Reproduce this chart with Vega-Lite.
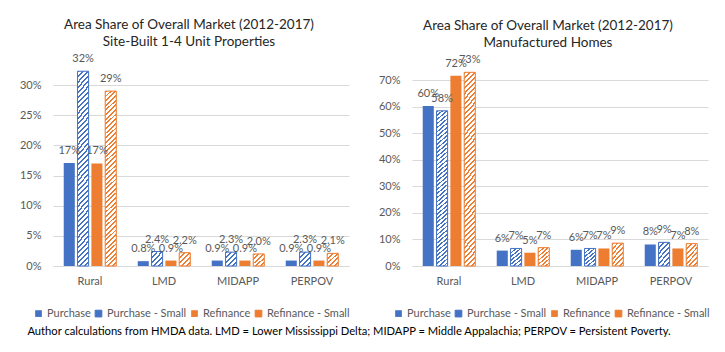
{
  "$schema": "https://vega.github.io/schema/vega-lite/v6.json",
  "background": "white",
  "padding": {"left": 19, "top": 17, "right": 5, "bottom": 5},
  "config": {
    "font": "Lato",
    "view": {"stroke": null},
    "axis": {"labelFont": "Lato", "labelFontSize": 11, "labelColor": "#595959", "ticks": false, "title": null, "domain": false, "gridColor": "#d9d9d9", "gridWidth": 1},
    "axisX": {"domain": true, "domainColor": "#d9d9d9", "grid": false, "labelPadding": 9, "labelAngle": 0},
    "axisY": {"labelPadding": 12},
    "title": {"font": "Lato", "fontSize": 13.5, "fontWeight": "normal", "color": "#262626"}
  },
  "params": [
    {"name": "hT", "value": {"gradient": "linear", "x1": 0, "y1": 0, "x2": 0.0646, "y2": 1.0572, "stops": [
      {"offset":0,"color":"#fff0"},{"offset":0.01,"color":"#fff0"},{"offset":0.01,"color":"#fff"},{"offset":0.025,"color":"#fff"},
      {"offset":0.025,"color":"#fff0"},{"offset":0.035,"color":"#fff0"},{"offset":0.035,"color":"#fff"},{"offset":0.05,"color":"#fff"},
      {"offset":0.05,"color":"#fff0"},{"offset":0.06,"color":"#fff0"},{"offset":0.06,"color":"#fff"},{"offset":0.075,"color":"#fff"},
      {"offset":0.075,"color":"#fff0"},{"offset":0.085,"color":"#fff0"},{"offset":0.085,"color":"#fff"},{"offset":0.1,"color":"#fff"},
      {"offset":0.1,"color":"#fff0"},{"offset":0.11,"color":"#fff0"},{"offset":0.11,"color":"#fff"},{"offset":0.125,"color":"#fff"},
      {"offset":0.125,"color":"#fff0"},{"offset":0.135,"color":"#fff0"},{"offset":0.135,"color":"#fff"},{"offset":0.15,"color":"#fff"},
      {"offset":0.15,"color":"#fff0"},{"offset":0.16,"color":"#fff0"},{"offset":0.16,"color":"#fff"},{"offset":0.175,"color":"#fff"},
      {"offset":0.175,"color":"#fff0"},{"offset":0.185,"color":"#fff0"},{"offset":0.185,"color":"#fff"},{"offset":0.2,"color":"#fff"},
      {"offset":0.2,"color":"#fff0"},{"offset":0.21,"color":"#fff0"},{"offset":0.21,"color":"#fff"},{"offset":0.225,"color":"#fff"},
      {"offset":0.225,"color":"#fff0"},{"offset":0.235,"color":"#fff0"},{"offset":0.235,"color":"#fff"},{"offset":0.25,"color":"#fff"},
      {"offset":0.25,"color":"#fff0"},{"offset":0.26,"color":"#fff0"},{"offset":0.26,"color":"#fff"},{"offset":0.275,"color":"#fff"},
      {"offset":0.275,"color":"#fff0"},{"offset":0.285,"color":"#fff0"},{"offset":0.285,"color":"#fff"},{"offset":0.3,"color":"#fff"},
      {"offset":0.3,"color":"#fff0"},{"offset":0.31,"color":"#fff0"},{"offset":0.31,"color":"#fff"},{"offset":0.325,"color":"#fff"},
      {"offset":0.325,"color":"#fff0"},{"offset":0.335,"color":"#fff0"},{"offset":0.335,"color":"#fff"},{"offset":0.35,"color":"#fff"},
      {"offset":0.35,"color":"#fff0"},{"offset":0.36,"color":"#fff0"},{"offset":0.36,"color":"#fff"},{"offset":0.375,"color":"#fff"},
      {"offset":0.375,"color":"#fff0"},{"offset":0.385,"color":"#fff0"},{"offset":0.385,"color":"#fff"},{"offset":0.4,"color":"#fff"},
      {"offset":0.4,"color":"#fff0"},{"offset":0.41,"color":"#fff0"},{"offset":0.41,"color":"#fff"},{"offset":0.425,"color":"#fff"},
      {"offset":0.425,"color":"#fff0"},{"offset":0.435,"color":"#fff0"},{"offset":0.435,"color":"#fff"},{"offset":0.45,"color":"#fff"},
      {"offset":0.45,"color":"#fff0"},{"offset":0.46,"color":"#fff0"},{"offset":0.46,"color":"#fff"},{"offset":0.475,"color":"#fff"},
      {"offset":0.475,"color":"#fff0"},{"offset":0.485,"color":"#fff0"},{"offset":0.485,"color":"#fff"},{"offset":0.5,"color":"#fff"},
      {"offset":0.5,"color":"#fff0"},{"offset":0.51,"color":"#fff0"},{"offset":0.51,"color":"#fff"},{"offset":0.525,"color":"#fff"},
      {"offset":0.525,"color":"#fff0"},{"offset":0.535,"color":"#fff0"},{"offset":0.535,"color":"#fff"},{"offset":0.55,"color":"#fff"},
      {"offset":0.55,"color":"#fff0"},{"offset":0.56,"color":"#fff0"},{"offset":0.56,"color":"#fff"},{"offset":0.575,"color":"#fff"},
      {"offset":0.575,"color":"#fff0"},{"offset":0.585,"color":"#fff0"},{"offset":0.585,"color":"#fff"},{"offset":0.6,"color":"#fff"},
      {"offset":0.6,"color":"#fff0"},{"offset":0.61,"color":"#fff0"},{"offset":0.61,"color":"#fff"},{"offset":0.625,"color":"#fff"},
      {"offset":0.625,"color":"#fff0"},{"offset":0.635,"color":"#fff0"},{"offset":0.635,"color":"#fff"},{"offset":0.65,"color":"#fff"},
      {"offset":0.65,"color":"#fff0"},{"offset":0.66,"color":"#fff0"},{"offset":0.66,"color":"#fff"},{"offset":0.675,"color":"#fff"},
      {"offset":0.675,"color":"#fff0"},{"offset":0.685,"color":"#fff0"},{"offset":0.685,"color":"#fff"},{"offset":0.7,"color":"#fff"},
      {"offset":0.7,"color":"#fff0"},{"offset":0.71,"color":"#fff0"},{"offset":0.71,"color":"#fff"},{"offset":0.725,"color":"#fff"},
      {"offset":0.725,"color":"#fff0"},{"offset":0.735,"color":"#fff0"},{"offset":0.735,"color":"#fff"},{"offset":0.75,"color":"#fff"},
      {"offset":0.75,"color":"#fff0"},{"offset":0.76,"color":"#fff0"},{"offset":0.76,"color":"#fff"},{"offset":0.775,"color":"#fff"},
      {"offset":0.775,"color":"#fff0"},{"offset":0.785,"color":"#fff0"},{"offset":0.785,"color":"#fff"},{"offset":0.8,"color":"#fff"},
      {"offset":0.8,"color":"#fff0"},{"offset":0.81,"color":"#fff0"},{"offset":0.81,"color":"#fff"},{"offset":0.825,"color":"#fff"},
      {"offset":0.825,"color":"#fff0"},{"offset":0.835,"color":"#fff0"},{"offset":0.835,"color":"#fff"},{"offset":0.85,"color":"#fff"},
      {"offset":0.85,"color":"#fff0"},{"offset":0.86,"color":"#fff0"},{"offset":0.86,"color":"#fff"},{"offset":0.875,"color":"#fff"},
      {"offset":0.875,"color":"#fff0"},{"offset":0.885,"color":"#fff0"},{"offset":0.885,"color":"#fff"},{"offset":0.9,"color":"#fff"},
      {"offset":0.9,"color":"#fff0"},{"offset":0.91,"color":"#fff0"},{"offset":0.91,"color":"#fff"},{"offset":0.925,"color":"#fff"},
      {"offset":0.925,"color":"#fff0"},{"offset":0.935,"color":"#fff0"},{"offset":0.935,"color":"#fff"},{"offset":0.95,"color":"#fff"},
      {"offset":0.95,"color":"#fff0"},{"offset":0.96,"color":"#fff0"},{"offset":0.96,"color":"#fff"},{"offset":0.975,"color":"#fff"},
      {"offset":0.975,"color":"#fff0"},{"offset":0.985,"color":"#fff0"},{"offset":0.985,"color":"#fff"},{"offset":1,"color":"#fff"}
    ]}},
    {"name": "hS1", "value": {"gradient": "linear", "x1": 0, "y1": 0, "x2": 0.91, "y2": 1.076, "stops": [
      {"offset":0,"color":"#fff0"},{"offset":0.08,"color":"#fff0"},{"offset":0.08,"color":"#fff"},{"offset":0.2,"color":"#fff"},
      {"offset":0.2,"color":"#fff0"},{"offset":0.28,"color":"#fff0"},{"offset":0.28,"color":"#fff"},{"offset":0.4,"color":"#fff"},
      {"offset":0.4,"color":"#fff0"},{"offset":0.48,"color":"#fff0"},{"offset":0.48,"color":"#fff"},{"offset":0.6,"color":"#fff"},
      {"offset":0.6,"color":"#fff0"},{"offset":0.68,"color":"#fff0"},{"offset":0.68,"color":"#fff"},{"offset":0.8,"color":"#fff"},
      {"offset":0.8,"color":"#fff0"},{"offset":0.88,"color":"#fff0"},{"offset":0.88,"color":"#fff"},{"offset":1,"color":"#fff"}
    ]}},
    {"name": "hS2", "value": {"gradient": "linear", "x1": 0, "y1": 0, "x2": 0.626, "y2": 1.196, "stops": [
      {"offset":0,"color":"#fff0"},{"offset":0.057,"color":"#fff0"},{"offset":0.057,"color":"#fff"},{"offset":0.143,"color":"#fff"},
      {"offset":0.143,"color":"#fff0"},{"offset":0.2,"color":"#fff0"},{"offset":0.2,"color":"#fff"},{"offset":0.286,"color":"#fff"},
      {"offset":0.286,"color":"#fff0"},{"offset":0.343,"color":"#fff0"},{"offset":0.343,"color":"#fff"},{"offset":0.429,"color":"#fff"},
      {"offset":0.429,"color":"#fff0"},{"offset":0.486,"color":"#fff0"},{"offset":0.486,"color":"#fff"},{"offset":0.571,"color":"#fff"},
      {"offset":0.571,"color":"#fff0"},{"offset":0.629,"color":"#fff0"},{"offset":0.629,"color":"#fff"},{"offset":0.714,"color":"#fff"},
      {"offset":0.714,"color":"#fff0"},{"offset":0.771,"color":"#fff0"},{"offset":0.771,"color":"#fff"},{"offset":0.857,"color":"#fff"},
      {"offset":0.857,"color":"#fff0"},{"offset":0.914,"color":"#fff0"},{"offset":0.914,"color":"#fff"},{"offset":1,"color":"#fff"}
    ]}},
    {"name": "lB", "value": {"gradient": "linear", "x1": 0, "y1": 0, "x2": 1, "y2": 1, "stops": [
      {"offset":0,"color":"#4472C4"},{"offset":0.133,"color":"#4472C4"},{"offset":0.133,"color":"#fff"},{"offset":0.333,"color":"#fff"},
      {"offset":0.333,"color":"#4472C4"},{"offset":0.467,"color":"#4472C4"},{"offset":0.467,"color":"#fff"},{"offset":0.667,"color":"#fff"},
      {"offset":0.667,"color":"#4472C4"},{"offset":0.8,"color":"#4472C4"},{"offset":0.8,"color":"#fff"},{"offset":1,"color":"#fff"}
    ]}},
    {"name": "lO", "value": {"gradient": "linear", "x1": 0, "y1": 0, "x2": 1, "y2": 1, "stops": [
      {"offset":0,"color":"#ED7D31"},{"offset":0.133,"color":"#ED7D31"},{"offset":0.133,"color":"#fff"},{"offset":0.333,"color":"#fff"},
      {"offset":0.333,"color":"#ED7D31"},{"offset":0.467,"color":"#ED7D31"},{"offset":0.467,"color":"#fff"},{"offset":0.667,"color":"#fff"},
      {"offset":0.667,"color":"#ED7D31"},{"offset":0.8,"color":"#ED7D31"},{"offset":0.8,"color":"#fff"},{"offset":1,"color":"#fff"}
    ]}}
  ],
  "datasets": {
    "d": [
      {"p": "L", "c": "Rural", "s": "Purchase", "v": 0.171},
      {"p": "L", "c": "Rural", "s": "Purchase - Small", "v": 0.323},
      {"p": "L", "c": "Rural", "s": "Refinance", "v": 0.170},
      {"p": "L", "c": "Rural", "s": "Refinance - Small", "v": 0.290},
      {"p": "L", "c": "LMD", "s": "Purchase", "v": 0.008},
      {"p": "L", "c": "LMD", "s": "Purchase - Small", "v": 0.024},
      {"p": "L", "c": "LMD", "s": "Refinance", "v": 0.009},
      {"p": "L", "c": "LMD", "s": "Refinance - Small", "v": 0.022},
      {"p": "L", "c": "MIDAPP", "s": "Purchase", "v": 0.009},
      {"p": "L", "c": "MIDAPP", "s": "Purchase - Small", "v": 0.023},
      {"p": "L", "c": "MIDAPP", "s": "Refinance", "v": 0.009},
      {"p": "L", "c": "MIDAPP", "s": "Refinance - Small", "v": 0.020},
      {"p": "L", "c": "PERPOV", "s": "Purchase", "v": 0.009},
      {"p": "L", "c": "PERPOV", "s": "Purchase - Small", "v": 0.023},
      {"p": "L", "c": "PERPOV", "s": "Refinance", "v": 0.009},
      {"p": "L", "c": "PERPOV", "s": "Refinance - Small", "v": 0.021},
      {"p": "R", "c": "Rural", "s": "Purchase", "v": 0.602},
      {"p": "R", "c": "Rural", "s": "Purchase - Small", "v": 0.584},
      {"p": "R", "c": "Rural", "s": "Refinance", "v": 0.716},
      {"p": "R", "c": "Rural", "s": "Refinance - Small", "v": 0.729},
      {"p": "R", "c": "LMD", "s": "Purchase", "v": 0.058},
      {"p": "R", "c": "LMD", "s": "Purchase - Small", "v": 0.066},
      {"p": "R", "c": "LMD", "s": "Refinance", "v": 0.050},
      {"p": "R", "c": "LMD", "s": "Refinance - Small", "v": 0.069},
      {"p": "R", "c": "MIDAPP", "s": "Purchase", "v": 0.061},
      {"p": "R", "c": "MIDAPP", "s": "Purchase - Small", "v": 0.066},
      {"p": "R", "c": "MIDAPP", "s": "Refinance", "v": 0.066},
      {"p": "R", "c": "MIDAPP", "s": "Refinance - Small", "v": 0.086},
      {"p": "R", "c": "PERPOV", "s": "Purchase", "v": 0.081},
      {"p": "R", "c": "PERPOV", "s": "Purchase - Small", "v": 0.089},
      {"p": "R", "c": "PERPOV", "s": "Refinance", "v": 0.066},
      {"p": "R", "c": "PERPOV", "s": "Refinance - Small", "v": 0.084}
    ]
  },
  "title": {"text": "Author calculations from HMDA data. LMD = Lower Mississippi Delta; MIDAPP = Middle Appalachia; PERPOV = Persistent Poverty.", "orient": "bottom", "anchor": "start", "font": "Lato", "fontSize": 11.2, "fontWeight": "normal", "color": "#000000", "offset": 7, "dx": 8},
  "spacing": 28,
  "resolve": {"scale": {"fill": "independent", "y": "independent"}, "legend": {"fill": "independent"}},
  "hconcat": [
    {
      "width": 296,
      "height": 199,
      "title": {"text": ["Area Share of Overall Market (2012-2017)", "Site-Built 1-4 Unit Properties"], "anchor": "middle", "frame": "group", "dx": -12, "offset": 5, "lineHeight": 17},
      "data": {"name": "d"},
      "transform": [{"filter": "datum.p == 'L'"}],
      "encoding": {
        "x": {"field": "c", "type": "nominal", "sort": ["Rural", "LMD", "MIDAPP", "PERPOV"], "scale": {"domain": ["Rural", "LMD", "MIDAPP", "PERPOV"], "paddingInner": 0.29, "paddingOuter": 0.145}},
        "xOffset": {"field": "s", "type": "nominal", "scale": {"domain": ["Purchase", "Purchase - Small", "Refinance", "Refinance - Small"], "paddingInner": 0.2, "paddingOuter": 0}},
        "y": {"field": "v", "type": "quantitative", "scale": {"domain": [0, 0.33], "nice": false}, "axis": {"values": [0, 0.05, 0.1, 0.15, 0.2, 0.25, 0.3], "format": ".0%"}}
      },
      "layer": [
        {
          "mark": {"type": "bar"},
          "encoding": {
            "fill": {"field": "s", "type": "nominal", "scale": {"domain": ["Purchase", "Purchase - Small", "Refinance", "Refinance - Small"], "range": ["#4472C4", "#4472C4", "#ED7D31", "#ED7D31"]},
              "legend": {"title": null, "orient": "none", "direction": "horizontal", "legendX": -20, "legendY": 241, "symbolType": "square", "symbolSize": 45, "labelFont": "Lato", "labelFontSize": 11, "labelColor": "#595959", "labelOffset": 3, "columnPadding": 2,
                "encode": {"symbols": {"update": {
                  "fill": [{"test": "datum.value === 'Purchase - Small'", "signal": "lB"}, {"test": "datum.value === 'Refinance - Small'", "signal": "lO"}, {"test": "datum.value === 'Purchase'", "value": "#4472C4"}, {"value": "#ED7D31"}],
                  "stroke": [{"test": "datum.value === 'Purchase - Small'", "value": "#4472C4"}, {"test": "datum.value === 'Refinance - Small'", "value": "#ED7D31"}, {"value": "transparent"}],
                  "strokeWidth": {"value": 1}, "opacity": {"value": 1}}}}}}
          }
        },
        {
          "transform": [{"filter": "indexof(datum.s, 'Small') >= 0"}],
          "mark": {"type": "bar", "strokeWidth": 1},
          "encoding": {
            "fill": {"condition": {"test": "datum.v > 0.15", "value": {"expr": "hT"}}, "value": {"expr": "hS1"}},
            "stroke": {"condition": {"test": "indexof(datum.s, 'Purchase') >= 0", "value": "#4472C4"}, "value": "#ED7D31"}
          }
        },
        {
          "transform": [{"filter": "datum.v < 0.05"}],
          "mark": {"type": "text", "dy": -9, "baseline": "alphabetic", "font": "Lato", "fontSize": 11, "color": "#595959"},
          "encoding": {"text": {"field": "v", "type": "quantitative", "format": ".1%"}}
        },
        {
          "transform": [{"filter": "datum.v >= 0.05"}],
          "mark": {"type": "text", "dy": -9, "baseline": "alphabetic", "font": "Lato", "fontSize": 11, "color": "#595959"},
          "encoding": {"text": {"field": "v", "type": "quantitative", "format": ".0%"}}
        }
      ]
    },
    {
      "width": 296,
      "height": 199,
      "title": {"text": ["Area Share of Overall Market (2012-2017)", "Manufactured Homes"], "anchor": "middle", "frame": "group", "dx": -12, "offset": 5, "lineHeight": 17},
      "data": {"name": "d"},
      "transform": [{"filter": "datum.p == 'R'"}],
      "encoding": {
        "x": {"field": "c", "type": "nominal", "sort": ["Rural", "LMD", "MIDAPP", "PERPOV"], "scale": {"domain": ["Rural", "LMD", "MIDAPP", "PERPOV"], "paddingInner": 0.29, "paddingOuter": 0.145}},
        "xOffset": {"field": "s", "type": "nominal", "scale": {"domain": ["Purchase", "Purchase - Small", "Refinance", "Refinance - Small"], "paddingInner": 0.2, "paddingOuter": 0}},
        "y": {"field": "v", "type": "quantitative", "scale": {"domain": [0, 0.749], "nice": false}, "axis": {"values": [0, 0.1, 0.2, 0.3, 0.4, 0.5, 0.6, 0.7], "format": ".0%"}}
      },
      "layer": [
        {
          "mark": {"type": "bar"},
          "encoding": {
            "fill": {"field": "s", "type": "nominal", "scale": {"domain": ["Purchase", "Purchase - Small", "Refinance", "Refinance - Small"], "range": ["#4472C4", "#4472C4", "#ED7D31", "#ED7D31"]},
              "legend": {"title": null, "orient": "none", "direction": "horizontal", "legendX": -19, "legendY": 241, "symbolType": "square", "symbolSize": 45, "labelFont": "Lato", "labelFontSize": 11, "labelColor": "#595959", "labelOffset": 3, "columnPadding": 2,
                "encode": {"symbols": {"update": {
                  "fill": [{"test": "datum.value === 'Purchase - Small'", "signal": "lB"}, {"test": "datum.value === 'Refinance - Small'", "signal": "lO"}, {"test": "datum.value === 'Purchase'", "value": "#4472C4"}, {"value": "#ED7D31"}],
                  "stroke": [{"test": "datum.value === 'Purchase - Small'", "value": "#4472C4"}, {"test": "datum.value === 'Refinance - Small'", "value": "#ED7D31"}, {"value": "transparent"}],
                  "strokeWidth": {"value": 1}, "opacity": {"value": 1}}}}}}
          }
        },
        {
          "transform": [{"filter": "indexof(datum.s, 'Small') >= 0"}],
          "mark": {"type": "bar", "strokeWidth": 1},
          "encoding": {
            "fill": {"condition": {"test": "datum.v > 0.15", "value": {"expr": "hT"}}, "value": {"expr": "hS2"}},
            "stroke": {"condition": {"test": "indexof(datum.s, 'Purchase') >= 0", "value": "#4472C4"}, "value": "#ED7D31"}
          }
        },
        {
          "mark": {"type": "text", "dy": -9, "baseline": "alphabetic", "font": "Lato", "fontSize": 11, "color": "#595959"},
          "encoding": {"text": {"field": "v", "type": "quantitative", "format": ".0%"}}
        }
      ]
    }
  ]
}
